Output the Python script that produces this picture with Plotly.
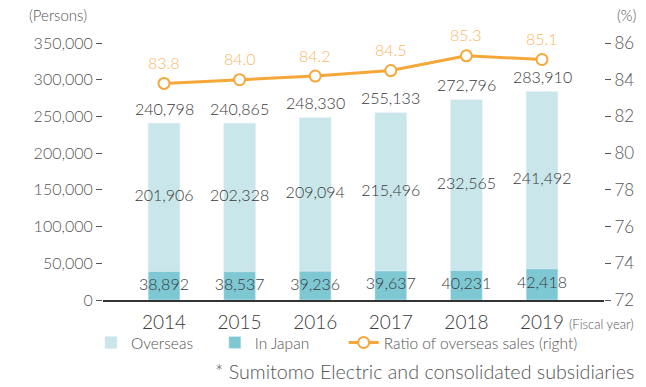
import plotly.graph_objects as go

# Employees by fiscal year
years = ["2014", "2015", "2016", "2017", "2018", "2019"]
in_japan = [38892, 38537, 39236, 39637, 40231, 42418]
overseas = [201906, 202328, 209094, 215496, 232565, 241492]
totals = [240798, 240865, 248330, 255133, 272796, 283910]
overseas_ratio = [83.8, 84.0, 84.2, 84.5, 85.3, 85.1]

left_ticks = [0, 50000, 100000, 150000, 200000, 250000, 300000, 350000]
right_ticks = [72, 74, 76, 78, 80, 82, 84, 86]

FONT = "Lato"
W = 300
TEXT = "#3a3a3a"
AXIS = "#555555"
LIGHT = "#c9e7eb"
DARK = "#7ec8d3"
ORANGE = "#f5a73a"
ORANGE_TXT = "#f7b865"
NBSP = "\u00a0"  # extra room between legend entries


def f(size, color=AXIS):
    return dict(family=FONT, size=size, color=color, weight=W)


x = list(range(len(years)))
bar_w = 0.42

fig = go.Figure()

fig.add_bar(x=x, y=overseas, base=in_japan, name="Overseas" + NBSP * 4,
            marker_color=LIGHT, width=bar_w, hoverinfo="skip")
fig.add_bar(x=x, y=in_japan, name="In Japan" + NBSP * 7,
            marker_color=DARK, width=bar_w, hoverinfo="skip")

# value labels centred in each segment
fig.add_scatter(x=x, y=[j / 2 for j in in_japan], mode="text",
                text=[f"{v:,}" for v in in_japan], textposition="middle center",
                textfont=f(16, TEXT), showlegend=False, hoverinfo="skip")
fig.add_scatter(x=x, y=[j + o / 2 for j, o in zip(in_japan, overseas)], mode="text",
                text=[f"{v:,}" for v in overseas], textposition="middle center",
                textfont=f(16, TEXT), showlegend=False, hoverinfo="skip")

# overseas sales ratio on the right axis
fig.add_scatter(x=x, y=overseas_ratio, yaxis="y2", mode="lines+markers",
                name="Ratio of overseas sales (right)",
                line=dict(color=ORANGE, width=3),
                marker=dict(symbol="circle", size=11, color="white",
                            line=dict(color=ORANGE, width=2)),
                cliponaxis=False, hoverinfo="skip")

annotations = []
# totals above the stacks
for xi, t in zip(x, totals):
    annotations.append(dict(x=xi, y=t, xref="x", yref="y", text=f"{t:,}",
                            showarrow=False, yanchor="middle", yshift=15,
                            font=f(16, TEXT)))
# ratio values above the markers
for xi, r in zip(x, overseas_ratio):
    annotations.append(dict(x=xi, y=r, xref="x", yref="y2", text=f"{r:.1f}",
                            showarrow=False, yanchor="middle", yshift=21,
                            font=f(16, ORANGE_TXT)))

annotations += [
    dict(text="(Persons)", xref="paper", yref="paper", x=-0.09, y=1.109,
         xanchor="center", yanchor="middle", showarrow=False, font=f(15)),
    dict(text="(%)", xref="paper", yref="paper", x=1.046, y=1.109,
         xanchor="center", yanchor="middle", showarrow=False, font=f(15)),
    dict(text="(Fiscal year)", xref="paper", yref="paper", x=0.926, y=-0.093,
         xanchor="left", yanchor="middle", showarrow=False, font=f(13)),
    dict(text="* Sumitomo Electric and consolidated subsidiaries", xref="paper",
         yref="paper", x=1.064, y=-0.28, xanchor="right", yanchor="middle",
         showarrow=False, font=f(19.7)),
]

fig.update_layout(
    width=646, height=387,
    margin=dict(l=103, r=42, t=43, b=87),
    paper_bgcolor="white", plot_bgcolor="white",
    barmode="overlay",
    font=dict(family=FONT, color=AXIS, weight=W),
    xaxis=dict(range=[-0.807, 5.82], tickvals=x, ticktext=years,
               showgrid=False, zeroline=False, showline=True,
               linecolor="#333333", linewidth=1.5, ticks="",
               ticklabelstandoff=4, tickfont=f(19, TEXT)),
    yaxis=dict(range=[0, 350000], tickvals=left_ticks, tickformat=",",
               showgrid=False, zeroline=False, showline=False,
               ticks="outside", ticklen=6, tickcolor=AXIS, tickwidth=1.2,
               tickfont=f(16)),
    yaxis2=dict(range=[72, 86], tickvals=right_ticks, overlaying="y", side="right",
                showgrid=False, zeroline=False, showline=False,
                ticks="outside", ticklen=6, tickcolor=AXIS, tickwidth=1.2,
                tickfont=f(17)),
    legend=dict(orientation="h", x=-0.024, xanchor="left", y=-0.167, yanchor="middle",
                font=f(15.5), traceorder="normal", itemwidth=30,
                bgcolor="rgba(0,0,0,0)"),
    annotations=annotations,
)

fig.write_html("out.html")
